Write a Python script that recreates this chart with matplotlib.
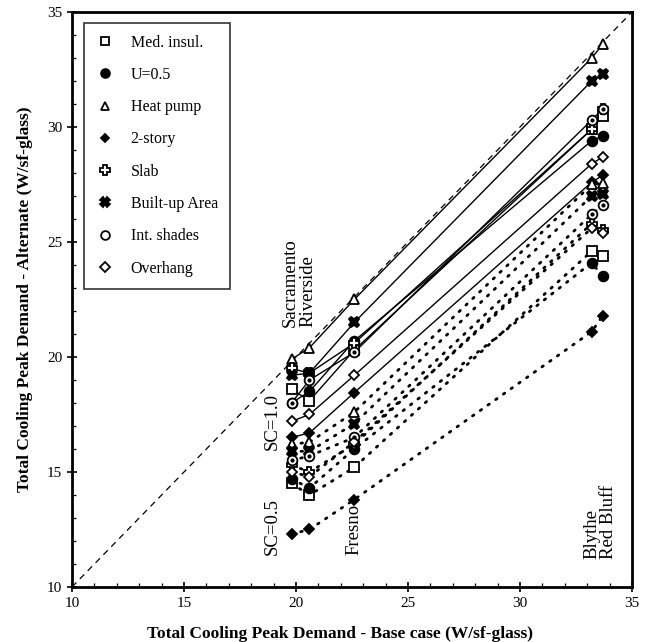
import matplotlib
matplotlib.use("Agg")
import matplotlib.pyplot as plt
from matplotlib.lines import Line2D
from matplotlib.ticker import MultipleLocator

plt.rcParams['font.family'] = ['Liberation Serif', 'DejaVu Serif']

# Base-case demand for each city (x)
cities = ["Sacramento", "Riverside", "Fresno", "Blythe", "Red Bluff"]
base = [19.8, 20.6, 22.6, 33.2, 33.7]

measures = ["Med. insul.", "U=0.5", "Heat pump", "2-story", "Slab",
            "Built-up Area", "Int. shades", "Overhang"]

# Alternate demand, SC = 1.0 (solid lines)
sc10_med = [18.6, 18.1, 20.3, 29.9, 30.5]
sc10_u05 = [18.0, 18.5, 20.7, 29.4, 29.6]
sc10_hp = [19.9, 20.4, 22.5, 33.0, 33.6]
sc10_2st = [16.5, 16.7, 18.45, 27.6, 27.9]
sc10_slab = [19.5, 19.3, 20.6, 29.9, 30.8]
sc10_bua = [19.2, 19.3, 21.5, 32.0, 32.3]
sc10_ints = [18.0, 19.0, 20.2, 30.3, 30.8]
sc10_ovh = [17.2, 17.5, 19.2, 28.4, 28.7]

# Alternate demand, SC = 0.5 (dotted lines)
sc05_med = [14.5, 14.0, 15.2, 24.6, 24.4]
sc05_u05 = [14.7, 14.3, 16.0, 24.1, 23.5]
sc05_hp = [16.2, 16.3, 17.6, 27.5, 27.55]
sc05_2st = [12.3, 12.5, 13.8, 21.1, 21.8]
sc05_slab = [15.3, 15.0, 16.2, 25.8, 25.5]
sc05_bua = [15.9, 15.9, 17.1, 27.0, 27.1]
sc05_ints = [15.5, 15.7, 16.5, 26.2, 26.6]
sc05_ovh = [15.0, 14.8, 16.3, 25.6, 25.4]

sc10 = [sc10_med, sc10_u05, sc10_hp, sc10_2st, sc10_slab, sc10_bua, sc10_ints, sc10_ovh]
sc05 = [sc05_med, sc05_u05, sc05_hp, sc05_2st, sc05_slab, sc05_bua, sc05_ints, sc05_ovh]

styles = {
    "Med. insul.": dict(marker='s', mfc='white', ms=6.5),
    "U=0.5": dict(marker='o', mfc='black', ms=7),
    "Heat pump": dict(marker='^', mfc='white', ms=7),
    "2-story": dict(marker='D', mfc='black', ms=5),
    "Slab": dict(marker='P', mfc='white', ms=7.5),
    "Built-up Area": dict(marker='X', mfc='black', ms=7.5),
    "Int. shades": dict(marker='o', mfc='white', ms=7),
    "Overhang": dict(marker='D', mfc='white', ms=5.5),
}

fig = plt.figure(figsize=(6.5, 6.42), dpi=100)
ax = fig.add_axes([0.1108, 0.0857, 0.8615, 0.8956])

ax.plot([10, 35], [10, 35], color='black', lw=0.9, dashes=(5, 4))

for m, ys in zip(measures, sc10):
    ax.plot(base, ys, color='black', lw=1.0, ls='-', zorder=2)
for m, ys in zip(measures, sc05):
    ax.plot(base, ys, color='black', lw=2.0, ls=(0, (0.6, 2.8)),
            dash_capstyle='round', zorder=2)

for group in (sc10, sc05):
    for m, ys in zip(measures, group):
        st = styles[m]
        ax.plot(base, ys, ls='none', marker=st['marker'], ms=st['ms'],
                mfc=st['mfc'], mec='black', mew=1.3, zorder=3)
        if m == "Int. shades":
            ax.plot(base, ys, ls='none', marker='o', ms=2, mfc='black',
                    mec='black', zorder=4)

# legend
handles = []
for m in measures:
    st = styles[m]
    handles.append(Line2D([], [], ls='none', marker=st['marker'], ms=st['ms'] * 0.9,
                          mfc=st['mfc'], mec='black', mew=1.3))
leg = ax.legend(handles, measures, loc='upper left', bbox_to_anchor=(0.012, 0.99),
                frameon=True, fancybox=False, edgecolor='black', fontsize=11.5,
                labelspacing=1.02, handletextpad=1.0, borderpad=0.75,
                borderaxespad=0.3, handlelength=1.2)
leg.get_frame().set_linewidth(1.2)

# city and SC annotations
ann_fs = 13.5
ax.text(19.73, 21.3, "Sacramento", rotation=90, ha='center', va='bottom', fontsize=ann_fs)
ax.text(20.54, 21.3, "Riverside", rotation=90, ha='center', va='bottom', fontsize=ann_fs)
ax.text(18.93, 15.95, "SC=1.0", rotation=90, ha='center', va='bottom', fontsize=ann_fs)
ax.text(18.93, 11.4, "SC=0.5", rotation=90, ha='center', va='bottom', fontsize=ann_fs)
ax.text(22.59, 11.4, "Fresno", rotation=90, ha='center', va='bottom', fontsize=ann_fs)
ax.text(33.2, 11.2, "Blythe", rotation=90, ha='center', va='bottom', fontsize=ann_fs)
ax.text(33.93, 11.2, "Red Bluff", rotation=90, ha='center', va='bottom', fontsize=ann_fs)

ax.set_xlim(10, 35)
ax.set_ylim(10, 35)
ax.xaxis.set_major_locator(MultipleLocator(5))
ax.yaxis.set_major_locator(MultipleLocator(5))
ax.xaxis.set_minor_locator(MultipleLocator(1))
ax.yaxis.set_minor_locator(MultipleLocator(1))
ax.tick_params(which='major', direction='inout', length=7, width=1.2, labelsize=11)
ax.tick_params(which='minor', direction='in', length=3, width=0.9)
ax.tick_params(top=False, right=False)
for s in ax.spines.values():
    s.set_linewidth(2.0)

ax.set_xlabel("Total Cooling Peak Demand - Base case (W/sf-glass)", fontsize=12.5,
              fontweight='bold', labelpad=12)
ax.set_ylabel("Total Cooling Peak Demand - Alternate (W/sf-glass)", fontsize=12.5,
              fontweight='bold', labelpad=10)
ax.xaxis.set_label_coords(0.478, -0.068)

fig.savefig("out.png", dpi=100)
